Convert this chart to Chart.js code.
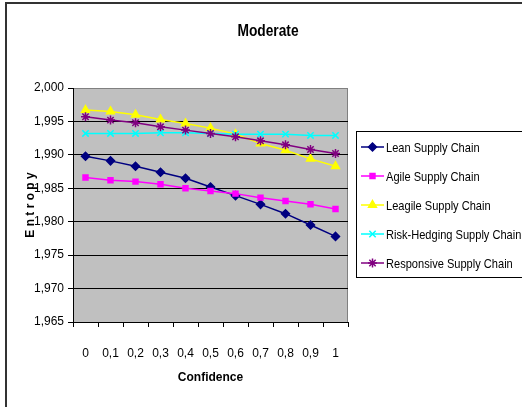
<!DOCTYPE html>
<html lang="en">
<head>
    <meta charset="UTF-8">
    <title>Moderate</title>
    <script src="https://cdn.jsdelivr.net/npm/chart.js"></script>
    <style>
        body {
            margin: 0;
            padding: 0;
            background-color: #fff;
        }
        .chart-container {
            position: relative;
            width: 522px;
            height: 407px;
        }
    </style>
</head>
<body>

    <div class="chart-container">
        <canvas id="chart"></canvas>
    </div>

    <script>
        // Data
        const categories = ['0', '0,1', '0,2', '0,3', '0,4', '0,5', '0,6', '0,7', '0,8', '0,9', '1'];
        const seriesNames = ['Lean Supply Chain', 'Agile Supply Chain', 'Leagile Supply Chain', 'Risk-Hedging Supply Chain', 'Responsive Supply Chain'];
        const lean = [1.9898, 1.9891, 1.9883, 1.9874, 1.9865, 1.9852, 1.9839, 1.9826, 1.9812, 1.9795, 1.9778];
        const agile = [1.9866, 1.9862, 1.9860, 1.9856, 1.9850, 1.9846, 1.9842, 1.9836, 1.9831, 1.9826, 1.9819];
        const leagile = [1.9967, 1.9965, 1.9960, 1.9953, 1.9947, 1.9940, 1.9931, 1.9917, 1.9907, 1.9894, 1.9883];
        const riskHedging = [1.9932, 1.9932, 1.9932, 1.9933, 1.9933, 1.9932, 1.9931, 1.9931, 1.9931, 1.9929, 1.9929];
        const responsive = [1.9957, 1.9952, 1.9948, 1.9942, 1.9937, 1.9932, 1.9927, 1.9921, 1.9915, 1.9908, 1.9902];
        const yTicks = { min: 1.965, max: 2.000, step: 0.005 };

        const FONT = "'Liberation Sans', Arial, sans-serif";
        const colors = ['#000080', '#FF00FF', '#FFFF00', '#00FFFF', '#800080'];
        const markers = ['rectRot', 'rect', 'triangle', 'crossRot', 'star'];
        const markerSizes = [4, 3.5, 4.5, 4.5, 4.5];
        const allData = [lean, agile, leagile, riskHedging, responsive];

        // the original uses a narrow face, so squeeze custom text horizontally
        function narrowText(ctx, text, x, y, sx) {
            ctx.save();
            ctx.translate(x, y);
            ctx.scale(sx, 1);
            ctx.fillText(text, 0, 0);
            ctx.restore();
        }

        // Plot background, outer frame, title and legend
        const decorations = {
            id: 'decorations',
            beforeDraw(chart) {
                const { ctx, chartArea: a } = chart;
                ctx.save();
                ctx.fillStyle = '#C0C0C0';
                ctx.fillRect(a.left, a.top, a.right - a.left, a.bottom - a.top);
                ctx.strokeStyle = '#808080';
                ctx.lineWidth = 1;
                ctx.strokeRect(a.left + 0.5, a.top + 0.5, a.right - a.left - 1, a.bottom - a.top);
                ctx.restore();
            },
            afterDraw(chart) {
                const ctx = chart.ctx;
                ctx.save();
                // outer frame
                ctx.strokeStyle = '#333';
                ctx.lineWidth = 2;
                ctx.beginPath();
                ctx.moveTo(6, 410);
                ctx.lineTo(6, 3);
                ctx.lineTo(525, 3);
                ctx.stroke();

                // title
                ctx.fillStyle = '#000';
                ctx.font = 'bold 16px ' + FONT;
                ctx.textAlign = 'center';
                ctx.textBaseline = 'middle';
                narrowText(ctx, 'Moderate', 268, 32, 0.86);

                // legend
                ctx.strokeStyle = '#000';
                ctx.lineWidth = 1;
                ctx.strokeRect(356.5, 131.5, 180, 146);
                ctx.font = '13.5px ' + FONT;
                ctx.textAlign = 'left';
                seriesNames.forEach((name, i) => {
                    const y = 147 + i * 29;
                    ctx.strokeStyle = colors[i];
                    ctx.fillStyle = colors[i];
                    ctx.lineWidth = 1.5;
                    ctx.beginPath();
                    ctx.moveTo(361, y);
                    ctx.lineTo(384, y);
                    ctx.stroke();
                    Chart.helpers.drawPoint(ctx, {
                        pointStyle: markers[i],
                        radius: markerSizes[i],
                        borderWidth: 1.5
                    }, 372.5, y);
                    ctx.fillStyle = '#000';
                    narrowText(ctx, name, 386, y + 1, 0.82);
                });
                ctx.restore();
            }
        };

        const datasets = allData.map((d, i) => ({
            label: seriesNames[i],
            data: d,
            borderColor: colors[i],
            backgroundColor: colors[i],
            borderWidth: 1.5,
            pointStyle: markers[i],
            pointRadius: markerSizes[i],
            pointBorderWidth: 1.5,
            fill: false,
            tension: 0,
            order: 5 - i
        }));

        const chart = new Chart(document.getElementById('chart'), {
            type: 'line',
            data: { labels: categories, datasets: datasets },
            options: {
                responsive: true,
                maintainAspectRatio: false,
                animation: false,
                layout: { padding: { left: 0, top: 88, right: 174, bottom: 0 } },
                plugins: {
                    legend: { display: false },
                    tooltip: { enabled: false }
                },
                scales: {
                    x: {
                        offset: true,
                        afterFit: s => { s.height = 85; },
                        grid: { offset: true, drawOnChartArea: false, drawTicks: true, tickLength: 5, color: '#000' },
                        border: { color: '#000', width: 1 },
                        ticks: { color: '#000', font: { family: FONT, size: 12 }, padding: 19, maxRotation: 0, autoSkip: false },
                        title: { display: true, text: 'Confidence', color: '#000', font: { family: FONT, size: 12, weight: 'bold' }, padding: { top: 0, bottom: 22 } }
                    },
                    y: {
                        min: yTicks.min,
                        max: yTicks.max,
                        afterFit: s => { s.width = 73; },
                        grid: {
                            color: ctx => (ctx.tick && Math.abs(ctx.tick.value - yTicks.max) < 1e-6) ? '#808080' : '#000',
                            tickColor: '#000',
                            tickLength: 5,
                            lineWidth: 1
                        },
                        border: { color: '#000', width: 1 },
                        ticks: {
                            stepSize: yTicks.step,
                            color: '#000',
                            font: { family: FONT, size: 12 },
                            padding: 4,
                            callback: v => v.toFixed(3).replace('.', ',')
                        },
                        title: { display: true, text: 'E n t r o p y', color: '#000', font: { family: FONT, size: 12, weight: 'bold' }, padding: { top: 23, bottom: 0 } }
                    }
                }
            },
            plugins: [decorations]
        });
    </script>

</body>
</html>
